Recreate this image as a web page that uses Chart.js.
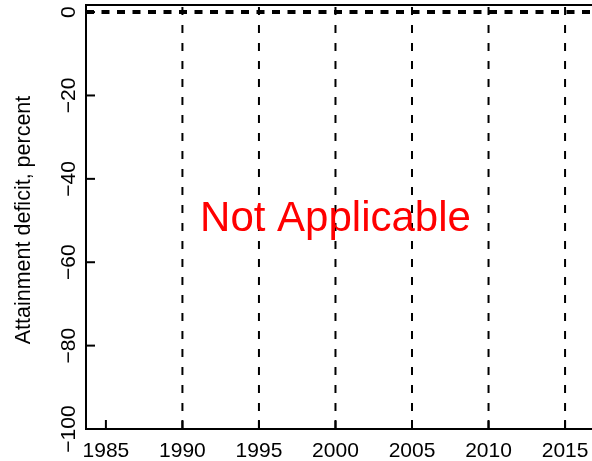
<!DOCTYPE html>
<html>
<head>
<meta charset="utf-8">
<script src="https://cdn.jsdelivr.net/npm/chart.js@4.4.0/dist/chart.umd.min.js"></script>
<style>
  html, body { margin: 0; padding: 0; background: #fff; overflow: hidden; }
  #wrap { position: relative; width: 592px; height: 461px; }
</style>
</head>
<body>
<div id="wrap"><canvas id="chart" width="592" height="461"></canvas></div>
<script>
// Data
const xTicks = [1985, 1990, 1995, 2000, 2005, 2010, 2015];
const yTicks = [0, -20, -40, -60, -80, -100];
const yTickLabels = ['0', '\u221220', '\u221240', '\u221260', '\u221280', '\u2212100'];
const refYears = [1990, 1995, 2000, 2005, 2010, 2015];   // vertical dashed lines
const targetLevel = 0;                                  // horizontal dashed line
const xRange = [1983.7, 2016.76];
const yRange = [-100, 1.7];
const yTitle = 'Attainment deficit, percent';
const noteText = 'Not Applicable';

const FONT = '"Liberation Sans", Arial, Helvetica, sans-serif';

// Build datasets
const datasets = [];
refYears.forEach(yr => {
  datasets.push({
    data: [{ x: yr, y: yRange[0] }, { x: yr, y: yRange[1] }],
    borderColor: '#000',
    borderWidth: 2,
    borderDash: [8, 10],
    pointRadius: 0,
    fill: false
  });
});
datasets.push({
  data: [{ x: xRange[0], y: targetLevel }, { x: xRange[1], y: targetLevel }],
  borderColor: '#000',
  borderWidth: 4,
  borderDash: [8, 7.5],
  pointRadius: 0,
  fill: false
});

// Draw R-style inward ticks, rotated y labels, axis title and note
const rAxes = {
  id: 'rAxes',
  afterDraw(chart) {
    const { ctx, chartArea, scales } = chart;
    const xs = scales.x, ys = scales.y;
    ctx.save();
    ctx.strokeStyle = '#000';
    ctx.lineWidth = 2;
    ctx.fillStyle = '#000';
    ctx.font = '21px ' + FONT;

    // x ticks and labels
    xTicks.forEach(v => {
      const px = xs.getPixelForValue(v);
      ctx.beginPath();
      ctx.moveTo(px, chartArea.bottom);
      ctx.lineTo(px, chartArea.bottom - 9);
      ctx.stroke();
      ctx.textAlign = 'center';
      ctx.textBaseline = 'alphabetic';
      ctx.fillText(String(v), px, 457);
    });

    // y ticks and rotated labels
    yTicks.forEach((v, i) => {
      const py = ys.getPixelForValue(v);
      ctx.beginPath();
      ctx.moveTo(chartArea.left, py);
      ctx.lineTo(chartArea.left + 9, py);
      ctx.stroke();
      ctx.save();
      ctx.translate(75, py);
      ctx.rotate(-Math.PI / 2);
      ctx.textAlign = 'center';
      ctx.textBaseline = 'alphabetic';
      ctx.fillText(yTickLabels[i], 0, 0);
      ctx.restore();
    });

    // y axis title
    ctx.save();
    ctx.translate(30, (chartArea.top + chartArea.bottom) / 2 + 3);
    ctx.rotate(-Math.PI / 2);
    ctx.textAlign = 'center';
    ctx.textBaseline = 'alphabetic';
    ctx.font = '21.5px ' + FONT;
    ctx.fillText(yTitle, 0, 0);
    ctx.restore();

    // note in the middle
    ctx.fillStyle = '#ff0000';
    ctx.font = '42px ' + FONT;
    ctx.textAlign = 'center';
    ctx.textBaseline = 'alphabetic';
    ctx.fillText(noteText, xs.getPixelForValue(2000), ys.getPixelForValue(-49) + 15);
    ctx.restore();
  }
};

new Chart(document.getElementById('chart'), {
  type: 'line',
  data: { datasets: datasets },
  options: {
    responsive: false,
    animation: false,
    events: [],
    layout: { padding: 0 },
    plugins: { legend: { display: false }, tooltip: { enabled: false }, title: { display: false } },
    elements: { line: { borderCapStyle: 'butt', tension: 0 } },
    scales: {
      x: {
        type: 'linear',
        position: 'bottom',
        min: xRange[0],
        max: xRange[1],
        grid: { display: false },
        ticks: { display: false },
        border: { display: true, color: '#000', width: 2 },
        afterFit(scale) { scale.height = 32; }
      },
      xTop: {
        type: 'linear',
        position: 'top',
        min: xRange[0],
        max: xRange[1],
        grid: { display: false },
        ticks: { display: false },
        border: { display: true, color: '#000', width: 2 },
        afterFit(scale) { scale.height = 5; }
      },
      y: {
        type: 'linear',
        position: 'left',
        min: yRange[0],
        max: yRange[1],
        grid: { display: false },
        ticks: { display: false },
        border: { display: true, color: '#000', width: 2 },
        afterFit(scale) { scale.width = 86; }
      }
    }
  },
  plugins: [rAxes]
});
</script>
</body>
</html>
